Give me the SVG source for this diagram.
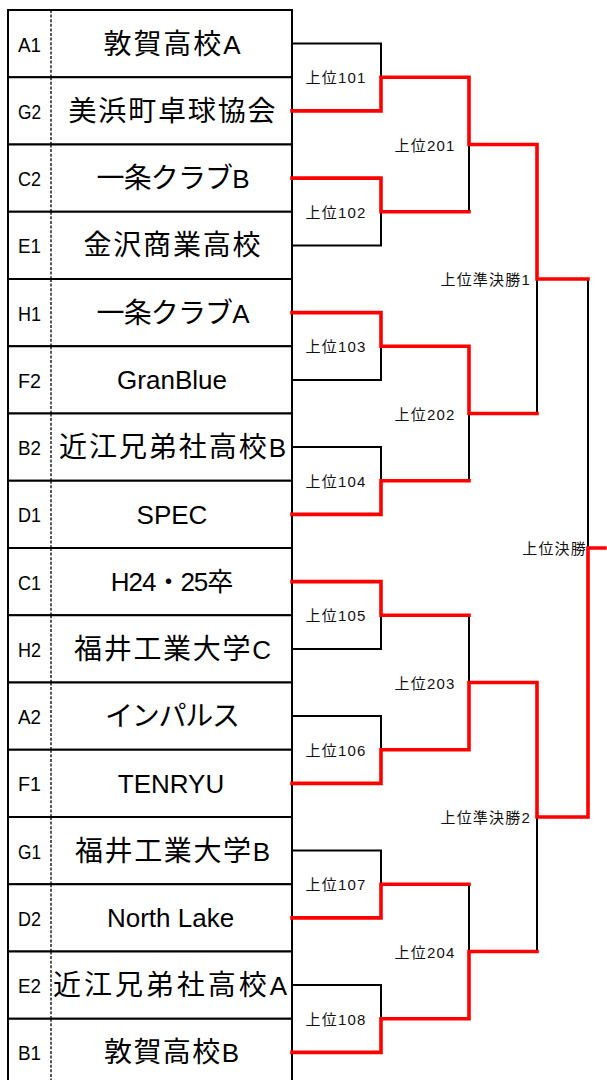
<svg xmlns="http://www.w3.org/2000/svg" width="607" height="1080" viewBox="0 0 607 1080">
<style>
.row{fill:#fff;stroke:#000;stroke-width:2}
.dash{stroke:#000;stroke-width:1.3;stroke-dasharray:3 1.6}
.seed{font-family:"Liberation Sans","Noto Sans CJK JP",sans-serif;font-size:21px;fill:#000;text-anchor:middle}
.name{font-family:"Liberation Sans","Noto Sans CJK JP",sans-serif;font-size:26px;fill:#000;text-anchor:middle}
.cj{font-size:28px}
.lt{font-size:26px}
.lab{font-family:"Liberation Sans","Noto Sans CJK JP",sans-serif;font-size:15px;fill:#111;letter-spacing:1.2px}
.k{fill:none;stroke:#000;stroke-width:2;stroke-linejoin:miter}
.r{fill:none;stroke:#f00;stroke-width:3.6;stroke-linejoin:miter;stroke-linecap:square}
</style>
<rect width="607" height="1080" fill="#fff"/>
<g id="teams">
<g id="team-A1"><rect class="row" x="8" y="10" width="284" height="67.25"/><line class="dash" x1="51" y1="10" x2="51" y2="77.25"/><text class="seed" x="29.5" y="51.6" textLength="23" lengthAdjust="spacingAndGlyphs">A1</text><text class="name cj" x="172" y="53.6" textLength="137" lengthAdjust="spacing">敦賀高校<tspan class="lt">A</tspan></text></g>
<g id="team-G2"><rect class="row" x="8" y="77.25" width="284" height="67.25"/><line class="dash" x1="51" y1="77.25" x2="51" y2="144.5"/><text class="seed" x="29.5" y="118.9" textLength="23" lengthAdjust="spacingAndGlyphs">G2</text><text class="name cj" x="172" y="120.9" textLength="207" lengthAdjust="spacing">美浜町卓球協会</text></g>
<g id="team-C2"><rect class="row" x="8" y="144.5" width="284" height="67.25"/><line class="dash" x1="51" y1="144.5" x2="51" y2="211.75"/><text class="seed" x="29.5" y="186.1" textLength="23" lengthAdjust="spacingAndGlyphs">C2</text><text class="name cj" x="173" y="188.1" textLength="153" lengthAdjust="spacing">一条クラブ<tspan class="lt">B</tspan></text></g>
<g id="team-E1"><rect class="row" x="8" y="211.75" width="284" height="67.25"/><line class="dash" x1="51" y1="211.75" x2="51" y2="279"/><text class="seed" x="29.5" y="253.4" textLength="23" lengthAdjust="spacingAndGlyphs">E1</text><text class="name cj" x="172" y="255.4" textLength="177" lengthAdjust="spacing">金沢商業高校</text></g>
<g id="team-H1"><rect class="row" x="8" y="279" width="284" height="67.25"/><line class="dash" x1="51" y1="279" x2="51" y2="346.25"/><text class="seed" x="29.5" y="320.6" textLength="23" lengthAdjust="spacingAndGlyphs">H1</text><text class="name cj" x="173" y="322.6" textLength="153" lengthAdjust="spacing">一条クラブ<tspan class="lt">A</tspan></text></g>
<g id="team-F2"><rect class="row" x="8" y="346.25" width="284" height="67.25"/><line class="dash" x1="51" y1="346.25" x2="51" y2="413.5"/><text class="seed" x="29.5" y="387.9" textLength="23" lengthAdjust="spacingAndGlyphs">F2</text><text class="name" x="172" y="389.4">GranBlue</text></g>
<g id="team-B2"><rect class="row" x="8" y="413.5" width="284" height="67.25"/><line class="dash" x1="51" y1="413.5" x2="51" y2="480.75"/><text class="seed" x="29.5" y="455.1" textLength="23" lengthAdjust="spacingAndGlyphs">B2</text><text class="name cj" x="172.5" y="457.1" textLength="227" lengthAdjust="spacing">近江兄弟社高校<tspan class="lt">B</tspan></text></g>
<g id="team-D1"><rect class="row" x="8" y="480.75" width="284" height="67.25"/><line class="dash" x1="51" y1="480.75" x2="51" y2="548"/><text class="seed" x="29.5" y="522.4" textLength="23" lengthAdjust="spacingAndGlyphs">D1</text><text class="name" x="172" y="523.9">SPEC</text></g>
<g id="team-C1"><rect class="row" x="8" y="548" width="284" height="67.25"/><line class="dash" x1="51" y1="548" x2="51" y2="615.25"/><text class="seed" x="29.5" y="589.6" textLength="23" lengthAdjust="spacingAndGlyphs">C1</text><text class="name" x="171.5" y="591.1" letter-spacing="-1">H24・25卒</text></g>
<g id="team-H2"><rect class="row" x="8" y="615.25" width="284" height="67.25"/><line class="dash" x1="51" y1="615.25" x2="51" y2="682.5"/><text class="seed" x="29.5" y="656.9" textLength="23" lengthAdjust="spacingAndGlyphs">H2</text><text class="name cj" x="172.5" y="658.9" textLength="197" lengthAdjust="spacing">福井工業大学<tspan class="lt">C</tspan></text></g>
<g id="team-A2"><rect class="row" x="8" y="682.5" width="284" height="67.25"/><line class="dash" x1="51" y1="682.5" x2="51" y2="749.75"/><text class="seed" x="29.5" y="724.1" textLength="23" lengthAdjust="spacingAndGlyphs">A2</text><text class="name cj" x="172.5" y="726.1" textLength="135" lengthAdjust="spacing">インパルス</text></g>
<g id="team-F1"><rect class="row" x="8" y="749.75" width="284" height="67.25"/><line class="dash" x1="51" y1="749.75" x2="51" y2="817"/><text class="seed" x="29.5" y="791.4" textLength="23" lengthAdjust="spacingAndGlyphs">F1</text><text class="name" x="171" y="792.9">TENRYU</text></g>
<g id="team-G1"><rect class="row" x="8" y="817" width="284" height="67.25"/><line class="dash" x1="51" y1="817" x2="51" y2="884.25"/><text class="seed" x="29.5" y="858.6" textLength="23" lengthAdjust="spacingAndGlyphs">G1</text><text class="name cj" x="172.5" y="860.6" textLength="195" lengthAdjust="spacing">福井工業大学<tspan class="lt">B</tspan></text></g>
<g id="team-D2"><rect class="row" x="8" y="884.25" width="284" height="67.25"/><line class="dash" x1="51" y1="884.25" x2="51" y2="951.5"/><text class="seed" x="29.5" y="925.9" textLength="23" lengthAdjust="spacingAndGlyphs">D2</text><text class="name" x="170.5" y="927.4">North Lake</text></g>
<g id="team-E2"><rect class="row" x="8" y="951.5" width="284" height="67.25"/><line class="dash" x1="51" y1="951.5" x2="51" y2="1018.75"/><text class="seed" x="29.5" y="993.1" textLength="23" lengthAdjust="spacingAndGlyphs">E2</text><text class="name cj" x="170" y="995.1" textLength="234" lengthAdjust="spacing">近江兄弟社高校<tspan class="lt">A</tspan></text></g>
<g id="team-B1"><rect class="row" x="8" y="1018.75" width="284" height="67.25"/><line class="dash" x1="51" y1="1018.75" x2="51" y2="1086"/><text class="seed" x="29.5" y="1060.4" textLength="23" lengthAdjust="spacingAndGlyphs">B1</text><text class="name cj" x="171.5" y="1062.4" textLength="135" lengthAdjust="spacing">敦賀高校<tspan class="lt">B</tspan></text></g>
</g>
<g id="connectors">
<polyline class="k" points="292,43.6 381,43.6 381,77.25"/>
<polyline class="k" points="292,245.4 381,245.4 381,211.75"/>
<polyline class="k" points="292,379.9 381,379.9 381,346.25"/>
<polyline class="k" points="292,447.1 381,447.1 381,480.75"/>
<polyline class="k" points="292,648.9 381,648.9 381,615.25"/>
<polyline class="k" points="292,716.1 381,716.1 381,749.75"/>
<polyline class="k" points="292,850.6 381,850.6 381,884.25"/>
<polyline class="k" points="292,985.1 381,985.1 381,1018.75"/>
<polyline class="k" points="469,211.75 469,144.5"/>
<polyline class="k" points="469,480.75 469,413.5"/>
<polyline class="k" points="469,615.25 469,682.5"/>
<polyline class="k" points="469,884.25 469,951.5"/>
<polyline class="k" points="537,413.5 537,279"/>
<polyline class="k" points="537,951.5 537,817"/>
<polyline class="k" points="588,279 588,548"/>
<polyline class="r" points="292,110.9 381,110.9 381,77.25 469,77.25 469,144.5 537,144.5 537,279 588,279"/>
<polyline class="r" points="292,178.1 381,178.1 381,211.75 469,211.75"/>
<polyline class="r" points="292,312.6 381,312.6 381,346.25 469,346.25 469,413.5 537,413.5"/>
<polyline class="r" points="292,514.4 381,514.4 381,480.75 469,480.75"/>
<polyline class="r" points="292,581.6 381,581.6 381,615.25 469,615.25"/>
<polyline class="r" points="292,783.4 381,783.4 381,749.75 469,749.75 469,682.5 537,682.5 537,817 588,817 588,548 605,548"/>
<polyline class="r" points="292,917.9 381,917.9 381,884.25 469,884.25"/>
<polyline class="r" points="292,1052.4 381,1052.4 381,1018.75 469,1018.75 469,951.5 537,951.5"/>
</g>
<g id="m101"><text class="lab" x="336" y="83.25" text-anchor="middle">上位101</text></g>
<g id="m102"><text class="lab" x="336" y="217.75" text-anchor="middle">上位102</text></g>
<g id="m103"><text class="lab" x="336" y="352.25" text-anchor="middle">上位103</text></g>
<g id="m104"><text class="lab" x="336" y="486.75" text-anchor="middle">上位104</text></g>
<g id="m105"><text class="lab" x="336" y="621.25" text-anchor="middle">上位105</text></g>
<g id="m106"><text class="lab" x="336" y="755.75" text-anchor="middle">上位106</text></g>
<g id="m107"><text class="lab" x="336" y="890.25" text-anchor="middle">上位107</text></g>
<g id="m108"><text class="lab" x="336" y="1024.75" text-anchor="middle">上位108</text></g>
<g id="m201"><text class="lab" x="425" y="150.5" text-anchor="middle">上位201</text></g>
<g id="m202"><text class="lab" x="425" y="419.5" text-anchor="middle">上位202</text></g>
<g id="m203"><text class="lab" x="425" y="688.5" text-anchor="middle">上位203</text></g>
<g id="m204"><text class="lab" x="425" y="957.5" text-anchor="middle">上位204</text></g>
<g id="semi1"><text class="lab" x="531" y="285" text-anchor="end">上位準決勝1</text></g>
<g id="semi2"><text class="lab" x="531" y="823" text-anchor="end">上位準決勝2</text></g>
<g id="final"><text class="lab" x="587" y="554" text-anchor="end">上位決勝</text></g>
</svg>
